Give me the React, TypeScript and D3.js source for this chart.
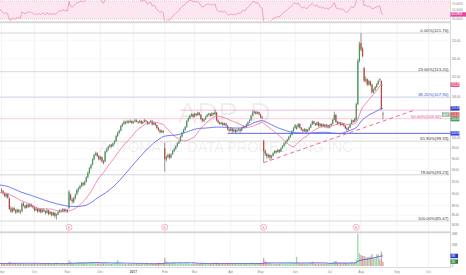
import React from "react";
import * as d3 from "d3";

// ---- data ----
const preCloses = [
  91.8, 92.1, 92.4, 92.0, 92.6, 92.9, 93.1, 92.7, 93.0, 92.5,
  92.8, 93.2, 92.9, 92.6, 92.3, 92.7, 92.4, 92.1, 92.5, 92.2,
  91.9, 92.3, 92.0, 91.7, 92.1, 91.8, 91.5, 91.9, 91.6, 91.3,
  90.8, 90.4, 90.7, 90.2, 90.5, 89.9, 90.3, 90.0, 89.7, 90.1,
  89.8, 90.2, 89.9, 90.4, 90.1, 89.8, 90.3, 90.0, 89.9, 90.6,
];

// [open, high, low, close]
const bars: [number, number, number, number][] = [
  [90.6, 90.9, 90.1, 90.4], [90.4, 90.6, 89.8, 90.0], [90.0, 90.2, 89.4, 89.6], [89.5, 90.1, 89.3, 89.9],
  [89.9, 90.0, 89.1, 89.3], [89.2, 89.3, 87.3, 87.4], [87.5, 87.9, 86.8, 87.0], [87.0, 87.7, 86.8, 87.5],
  [87.6, 87.8, 87.0, 87.2], [87.2, 87.4, 86.6, 86.9], [86.9, 87.5, 86.7, 87.3], [87.3, 87.4, 86.8, 87.0],
  [87.0, 87.3, 86.6, 86.9], [87.0, 88.5, 86.9, 88.3], [88.3, 88.6, 87.8, 88.0], [88.0, 88.1, 87.4, 87.6],
  [87.6, 88.3, 87.5, 88.1], [88.1, 88.3, 87.6, 87.8], [87.8, 88.4, 87.7, 88.2], [88.2, 88.3, 87.7, 87.9],
  [87.9, 88.1, 87.5, 87.7], [87.7, 87.8, 87.0, 87.2], [87.2, 87.7, 87.1, 87.5], [87.5, 87.6, 86.8, 87.0],
  [87.0, 87.6, 86.9, 87.4], [87.4, 87.5, 86.7, 86.9], [86.9, 87.5, 86.8, 87.3], [87.3, 87.4, 86.9, 87.1],
  [87.1, 87.2, 86.5, 86.8], [86.8, 87.4, 86.7, 87.2], [87.2, 87.3, 86.4, 86.6], [86.6, 87.1, 86.5, 86.9],
  [86.9, 87.0, 86.2, 86.4], [86.4, 87.0, 86.3, 86.8], [86.8, 86.9, 86.0, 86.3], [86.3, 86.7, 85.7, 86.5],
  [86.5, 87.1, 86.4, 86.9], [86.9, 87.4, 86.8, 87.2], [87.2, 87.3, 86.8, 87.0], [87.0, 87.6, 86.9, 87.4],
  [87.4, 87.5, 86.9, 87.1], [87.1, 87.5, 87.0, 87.3], [87.3, 87.4, 86.8, 87.0], [87.6, 90.6, 87.4, 90.3],
  [89.8, 90.0, 88.8, 89.0], [89.0, 89.3, 88.3, 88.7], [88.6, 89.4, 88.4, 89.2], [89.2, 90.0, 89.0, 89.8],
  [89.9, 90.8, 89.7, 90.6], [90.6, 91.1, 90.2, 90.9], [90.9, 91.5, 90.7, 91.3], [91.3, 92.0, 91.1, 91.8],
  [91.8, 92.0, 91.2, 91.5], [91.5, 92.2, 91.4, 92.0], [92.0, 93.0, 91.9, 92.8], [92.8, 93.8, 92.6, 93.6],
  [93.6, 94.6, 93.4, 94.4], [94.4, 95.2, 94.2, 95.0], [95.0, 96.2, 94.9, 96.0], [96.0, 97.0, 95.8, 96.8],
  [96.8, 97.4, 96.6, 97.1], [97.1, 97.3, 96.4, 96.6], [96.6, 96.8, 95.8, 96.0], [96.0, 96.6, 95.8, 96.4],
  [96.4, 96.5, 95.4, 95.6], [95.6, 95.9, 95.1, 95.3], [95.6, 97.6, 95.5, 97.4], [97.4, 98.0, 97.2, 97.8],
  [97.8, 98.5, 97.6, 98.3], [98.3, 98.8, 98.1, 98.6], [98.6, 98.8, 98.1, 98.4], [98.4, 99.1, 98.3, 98.9],
  [98.9, 99.5, 98.7, 99.3], [99.3, 100.5, 99.2, 100.3], [100.3, 101.1, 100.1, 100.9], [100.9, 101.5, 100.7, 101.3],
  [101.3, 102.4, 101.2, 102.2], [102.2, 102.8, 102.0, 102.6], [102.6, 103.3, 102.4, 103.0], [103.0, 103.2, 102.5, 102.8],
  [102.8, 103.4, 102.7, 103.1], [103.1, 103.3, 102.7, 102.9], [102.9, 103.5, 102.8, 103.2], [103.2, 103.3, 102.6, 102.8],
  [102.8, 103.2, 102.6, 103.0], [103.0, 103.6, 102.9, 103.3], [103.3, 103.5, 102.9, 103.1], [103.1, 103.2, 102.6, 102.9],
  [102.9, 103.4, 102.8, 103.2], [103.2, 103.3, 102.5, 102.7], [102.7, 103.2, 102.6, 103.0], [103.0, 103.6, 102.9, 103.3],
  [103.3, 103.4, 102.9, 103.1], [103.1, 103.2, 102.4, 102.6], [102.6, 103.1, 102.5, 102.9], [102.9, 103.4, 102.8, 103.2],
  [103.2, 103.3, 102.3, 102.5], [102.5, 103.0, 102.4, 102.8], [102.8, 102.9, 102.2, 102.4], [102.4, 102.5, 101.6, 101.8],
  [101.8, 102.0, 101.2, 101.4], [101.4, 101.6, 100.8, 101.0], [101.0, 101.5, 100.9, 101.3], [101.3, 101.4, 100.8, 101.0],
  [98.0, 99.0, 93.8, 96.0], [96.0, 96.7, 95.6, 96.4], [96.4, 97.1, 96.2, 96.8], [96.8, 97.0, 96.0, 96.3],
  [96.3, 97.1, 96.2, 96.9], [96.9, 97.7, 96.8, 97.5], [97.5, 98.1, 97.3, 97.9], [97.9, 98.6, 97.8, 98.4],
  [98.4, 99.1, 98.2, 98.9], [98.9, 99.5, 98.8, 99.3], [99.3, 100.4, 99.2, 100.2], [100.2, 101.1, 100.0, 100.9],
  [100.9, 101.7, 100.8, 101.5], [101.5, 102.2, 101.3, 102.0], [102.0, 103.4, 101.9, 103.2], [103.2, 103.9, 103.0, 103.7],
  [103.7, 104.4, 103.5, 104.2], [104.2, 104.7, 104.0, 104.5], [104.5, 104.6, 103.8, 104.0], [104.0, 104.8, 103.9, 104.6],
  [104.6, 104.7, 104.1, 104.3], [104.3, 105.0, 104.2, 104.8], [104.8, 104.9, 104.2, 104.4], [104.4, 104.5, 103.4, 103.6],
  [103.6, 103.8, 103.0, 103.2], [103.2, 103.7, 103.0, 103.5], [103.5, 104.2, 103.4, 104.0], [104.0, 104.6, 103.9, 104.4],
  [104.4, 104.8, 104.2, 104.6], [104.6, 104.7, 104.0, 104.2], [104.2, 104.9, 104.1, 104.7], [104.7, 104.8, 104.3, 104.5],
  [104.5, 105.4, 104.4, 104.9], [104.8, 104.9, 103.1, 103.3], [103.3, 103.5, 102.7, 102.9], [102.9, 103.1, 102.4, 102.6],
  [102.6, 103.0, 102.5, 102.8], [102.8, 102.9, 102.2, 102.4], [102.4, 102.9, 102.3, 102.7], [102.7, 102.8, 102.1, 102.3],
  [102.3, 102.4, 101.4, 101.6], [101.6, 101.8, 101.0, 101.3], [101.3, 101.9, 101.2, 101.7], [101.7, 101.8, 100.9, 101.2],
  [101.2, 101.7, 101.0, 101.5], [101.5, 101.6, 100.8, 101.1], [101.1, 101.6, 101.0, 101.4], [101.4, 101.8, 101.2, 101.6],
  [101.6, 101.7, 100.9, 101.3], [101.3, 102.0, 101.2, 101.8], [101.8, 102.3, 101.7, 102.1], [102.1, 102.2, 101.7, 101.9],
  [101.9, 102.7, 101.8, 102.5], [102.5, 103.1, 102.4, 102.9], [102.9, 103.5, 102.8, 103.3], [103.3, 104.4, 103.2, 104.2],
  [104.2, 105.3, 104.1, 104.8], [104.8, 105.2, 104.6, 105.0], [105.0, 105.1, 104.4, 104.6], [104.6, 105.1, 104.5, 104.9],
  [104.9, 105.0, 104.3, 104.5], [104.5, 104.6, 103.7, 103.9], [103.9, 104.2, 103.5, 103.7], [99.3, 99.6, 95.4, 97.5],
  [97.5, 97.8, 96.6, 97.0], [97.0, 97.2, 96.1, 96.5], [96.5, 97.0, 96.2, 96.8], [96.8, 96.9, 95.8, 96.3],
  [96.3, 96.8, 96.1, 96.6], [96.6, 97.3, 96.5, 97.1], [97.1, 97.7, 97.0, 97.5], [97.5, 97.6, 97.0, 97.3],
  [97.3, 97.9, 97.2, 97.7], [97.7, 97.8, 97.1, 97.4], [97.4, 98.2, 97.3, 98.0], [98.0, 98.6, 97.9, 98.4],
  [98.4, 99.1, 98.3, 98.9], [98.9, 99.4, 98.7, 99.2], [99.2, 99.8, 99.1, 99.6], [99.6, 100.3, 99.5, 100.1],
  [100.1, 100.7, 100.0, 100.5], [100.5, 101.4, 100.4, 101.2], [101.2, 102.0, 101.1, 101.8], [101.8, 102.6, 101.7, 102.4],
  [101.6, 102.4, 101.5, 102.0], [102.0, 102.8, 101.9, 102.6], [102.6, 102.7, 101.7, 101.9], [101.9, 102.0, 101.3, 101.5],
  [101.5, 101.7, 101.0, 101.2], [101.2, 101.8, 101.1, 101.6], [101.6, 101.7, 100.9, 101.1], [101.1, 101.6, 101.0, 101.4],
  [101.4, 102.1, 101.3, 101.9], [101.9, 102.7, 101.8, 102.5], [102.5, 103.3, 102.4, 103.1], [103.1, 103.2, 102.5, 102.7],
  [102.7, 102.8, 102.2, 102.4], [102.4, 103.1, 102.3, 102.9], [102.9, 103.0, 102.0, 102.2], [102.2, 102.8, 102.1, 102.6],
  [102.6, 102.7, 101.9, 102.1], [102.1, 102.7, 102.0, 102.5], [102.5, 102.6, 101.8, 102.0], [102.0, 102.6, 101.9, 102.4],
  [102.4, 102.5, 101.7, 101.9], [101.9, 102.5, 101.8, 102.3], [102.3, 102.8, 102.2, 102.6], [102.6, 103.6, 102.5, 103.4],
  [103.4, 105.0, 103.3, 104.4], [104.4, 104.5, 102.8, 103.0], [103.0, 103.2, 102.4, 102.6], [102.6, 103.1, 102.5, 102.9],
  [102.9, 103.0, 102.2, 102.4], [102.4, 102.9, 102.3, 102.7], [102.7, 102.8, 102.1, 102.3], [102.3, 102.4, 101.6, 101.8],
  [101.8, 102.0, 101.2, 101.5], [101.5, 102.1, 101.4, 101.9], [101.9, 102.8, 101.8, 102.6], [102.6, 103.5, 102.5, 103.3],
  [103.3, 103.4, 102.8, 103.0], [103.0, 103.8, 102.9, 103.6], [103.4, 106.8, 103.2, 106.5], [106.5, 116.0, 106.3, 115.5],
  [115.5, 119.8, 115.2, 119.2], [119.5, 121.76, 117.6, 118.0], [118.2, 118.6, 116.3, 116.6], [114.0, 114.3, 111.0, 111.3],
  [111.3, 112.2, 110.9, 111.6], [111.6, 111.8, 110.2, 110.5], [110.5, 111.5, 110.3, 111.2], [111.2, 111.3, 110.1, 110.4],
  [110.5, 110.7, 108.6, 108.9], [108.9, 109.7, 108.7, 109.4], [109.4, 110.2, 109.2, 110.0], [110.0, 110.8, 109.8, 110.6],
  [110.6, 111.5, 110.4, 111.2], [111.6, 111.8, 111.0, 111.5], [111.2, 111.4, 105.3, 105.6], [104.6, 105.0, 103.5, 104.43],
];

const preVolumes = [2.4, 2.2, 2.6, 2.3, 2.1, 2.5, 2.2, 2.4, 2.0, 2.3, 2.6, 2.2, 2.5, 2.1, 2.3, 2.4, 2.2, 2.0, 2.5, 2.3];
// millions
const volumes = [
  2.6, 2.4, 2.2, 2.5, 2.3, 4.0, 3.1, 2.6, 2.4, 2.8,
  2.2, 2.5, 2.3, 2.9, 2.4, 2.1, 2.3, 2.2, 2.6, 2.0,
  2.1, 2.4, 2.2, 2.0, 2.3, 2.5, 2.1, 2.2, 2.4, 2.0,
  2.6, 2.2, 2.5, 2.1, 2.7, 3.0, 2.3, 2.1, 2.2, 2.4,
  2.0, 2.3, 2.5, 5.6, 3.6, 2.8, 2.5, 2.9, 3.4, 3.1,
  3.8, 3.3, 2.9, 3.2, 3.5, 3.0, 3.3, 2.8, 3.6, 3.1,
  2.7, 2.5, 2.9, 2.4, 2.8, 2.6, 3.3, 2.7, 2.5, 2.3,
  2.2, 2.4, 2.8, 3.1, 5.5, 2.9, 2.6, 2.4, 2.2, 1.8,
  1.6, 2.0, 2.3, 2.1, 2.2, 2.0, 1.9, 2.3, 2.1, 2.4,
  2.0, 2.2, 1.9, 2.4, 2.1, 2.3, 2.6, 2.2, 2.4, 2.5,
  2.7, 2.9, 2.4, 2.8, 7.8, 4.5, 3.2, 2.8, 2.5, 3.0,
  3.5, 2.7, 2.4, 2.6, 2.9, 2.5, 2.3, 2.6, 2.8, 2.4,
  2.2, 2.0, 2.3, 2.1, 2.4, 2.2, 1.9, 2.5, 2.6, 2.2,
  2.1, 2.3, 2.0, 2.2, 2.4, 3.0, 2.6, 2.9, 2.5, 2.3,
  2.1, 2.4, 2.2, 2.0, 2.6, 2.3, 2.1, 2.5, 2.2, 2.4,
  2.0, 2.2, 2.3, 2.1, 2.4, 2.2, 2.5, 2.3, 2.6, 2.9,
  2.7, 2.4, 2.2, 2.5, 2.3, 2.6, 2.8, 7.5, 4.6, 3.5,
  3.0, 2.8, 2.6, 2.5, 2.3, 2.4, 2.2, 2.5, 2.7, 2.4,
  2.3, 2.6, 2.4, 2.5, 2.7, 2.9, 2.6, 2.8, 8.7, 2.9,
  2.5, 2.3, 2.6, 2.4, 2.2, 2.5, 2.7, 2.9, 4.2, 2.6,
  2.4, 2.3, 2.5, 2.2, 2.4, 2.1, 2.3, 2.5, 2.2, 2.6,
  2.8, 3.4, 4.3, 4.6, 3.1, 2.7, 2.9, 2.5, 2.7, 3.0,
  2.8, 2.6, 3.1, 3.3, 2.9, 3.2, 6.0, 30.5, 12.0, 10.3,
  9.4, 9.4, 8.1, 8.1, 8.7, 8.7, 11.0, 7.2, 7.2, 11.0,
  11.0, 6.3, 13.4, 4.1,
];

const monthLabels = ["Sep", "Oct", "Nov", "Dec", "2017", "Feb", "Mar", "Apr", "May", "Jun", "Jul", "Aug", "Sep", "Oct"];
const monthStartIdx = [0, 21, 42, 63, 84, 104, 123, 146, 165, 187, 209, 229, 252, 272];
const priceTicks = [120, 116, 112, 108, 100, 98, 96, 94, 92, 90, 88, 86.4, 84.8];
const gridPrices = [120, 116, 112, 108, 104, 100, 98, 96, 94, 92, 90, 88, 86.4, 84.8];
const fibNames = ["0.00%", "23.60%", "38.20%", "50.00%", "61.80%", "78.60%", "100.00%"];
const fibPrices = [121.76, 113.2, 107.9, 103.62, 99.33, 93.23, 85.47];
const earningsIdx = [43, 104, 167, 226];
const supportLevel = { price: 100.8, fromIdx: 144 };
const resistanceLevel = { price: 105.3, fromIdx: 114 };
const trendFrom = { idx: 167, price: 95.4 };
const trendTo = { idx: 263, price: 105.3 };
const extraTag = 104.61;
const rsiTicks = [70, 50, 30];
const volTicks = [30, 20, 0];

const FONT = "Liberation Sans, Arial, sans-serif";
const PR = 450.5;

function sma(arr: number[], n: number): (number | null)[] {
  return arr.map((_, k) => (k < n - 1 ? null : (d3.sum(arr.slice(k - n + 1, k + 1)) as number) / n));
}

function wilderRsi(c: number[], n: number): (number | null)[] {
  const out: (number | null)[] = c.map(() => null);
  let ag = 0, al = 0;
  for (let k = 1; k <= n; k++) {
    const ch = c[k] - c[k - 1];
    ag += Math.max(ch, 0);
    al += Math.max(-ch, 0);
  }
  ag /= n; al /= n;
  out[n] = 100 - 100 / (1 + ag / al);
  for (let k = n + 1; k < c.length; k++) {
    const ch = c[k] - c[k - 1];
    ag = (ag * (n - 1) + Math.max(ch, 0)) / n;
    al = (al * (n - 1) + Math.max(-ch, 0)) / n;
    out[k] = al === 0 ? 100 : 100 - 100 / (1 + ag / al);
  }
  return out;
}

function Tag({ y, text, fill, w = 9, fs = 2.8 }: { y: number; text: string; fill: string; w?: number; fs?: number }) {
  return (
    <g>
      <rect x={PR} y={y - 2.2} width={w} height={4.4} fill={fill} />
      <text x={PR + 0.8} y={y + 1} fontSize={fs} fill="#fff" fontFamily={FONT}>{text}</text>
    </g>
  );
}

export default function App() {
  const x = d3.scaleLinear().domain([0, 272]).range([1.5, 428.5]);
  const y = d3.scaleLog().domain([85.47, 121.76]).range([221, 33]);
  const yR = d3.scaleLinear().domain([30, 70]).range([19, 1]);
  const yV = d3.scaleLinear().domain([0, 30]).range([266, 234]);

  const nPre = preCloses.length;
  const allCloses = [...preCloses, ...bars.map((b) => b[3])];
  const s20 = sma(allCloses, 20);
  const s50 = sma(allCloses, 50);
  const rsi = wilderRsi(allCloses, 14);
  const allVols = [...preVolumes, ...volumes];
  const vma = sma(allVols, 20);
  const nPreV = preVolumes.length;

  const mkLine = (vals: (number | null)[], off: number, ys: (v: number) => number) =>
    d3.line<number | null>()
      .defined((d) => d !== null)
      .x((_, k) => x(k - off))
      .y((d) => ys(d as number))(vals) || "";

  const s20Path = mkLine(s20, nPre, y);
  const s50Path = mkLine(s50, nPre, y);
  const rsiPath = mkLine(rsi, nPre, yR);
  const vmaPath = mkLine(vma, nPreV, yV);

  const last = bars.length - 1;
  const lastClose = bars[last][3];
  const s20Last = s20[s20.length - 1] as number;
  const s50Last = s50[s50.length - 1] as number;
  const rsiLast = rsi[rsi.length - 1] as number;
  const vmaLast = vma[vma.length - 1] as number;
  const volLast = volumes[last];

  const blueY = y(s50Last);
  const redY = Math.max(y(lastClose), blueY + 4.6);
  const greenY = redY + 4.6;

  const up = (b: number[]) => b[3] >= b[0];

  return (
    <svg width={466} height={275} style={{ position: "absolute", left: 0, top: 0, background: "#fff" }}>
      <defs>
        <clipPath id="cRsi"><rect x={0} y={0} width={PR} height={21.3} /></clipPath>
        <clipPath id="cMain"><rect x={0} y={23.5} width={PR} height={207.8} /></clipPath>
        <clipPath id="cVol"><rect x={0} y={233.4} width={PR} height={33} /></clipPath>
      </defs>
      <rect x={0} y={0} width={466} height={275} fill="#fff" />

      {/* vertical grid */}
      {monthStartIdx.map((m, k) => (
        <line key={"vg" + k} x1={x(m)} x2={x(m)} y1={0} y2={267} stroke="#f0f0f0" strokeWidth={0.8} />
      ))}

      {/* RSI pane */}
      <g clipPath="url(#cRsi)">
        <rect x={0} y={yR(70)} width={PR} height={yR(30) - yR(70)} fill="#fce6ef" />
        <line x1={0} x2={PR} y1={yR(70)} y2={yR(70)} stroke="#d9a7bd" strokeWidth={0.6} strokeDasharray="1,1" />
        <line x1={0} x2={PR} y1={yR(30)} y2={yR(30)} stroke="#d9a7bd" strokeWidth={0.6} strokeDasharray="1,1" />
        <path d={rsiPath} fill="none" stroke="#ef8fc1" strokeWidth={0.8} />
      </g>
      <rect x={0} y={21.4} width={466} height={1.8} fill="#d4d4d4" />

      {/* main pane */}
      <g clipPath="url(#cMain)">
        {gridPrices.map((p) => (
          <line key={"hg" + p} x1={0} x2={PR} y1={y(p)} y2={y(p)} stroke="#f5f5f5" strokeWidth={0.8} />
        ))}
        <text x={178} y={123} fontSize={29} fill="#000" fillOpacity={0.07} fontFamily={FONT}>ADP, D</text>
        <text x={226} y={152} fontSize={14.5} fill="#000" fillOpacity={0.07} fontFamily={FONT} textAnchor="middle">
          AUTOMATIC DATA PROCESSING INC
        </text>
        {fibPrices.map((p, k) => (
          <line key={"fl" + k} x1={0} x2={PR} y1={y(p)} y2={y(p)}
            stroke={k === 2 ? "#c9cdf2" : k === 3 ? "#f6c3d6" : "#d3d3d3"} strokeWidth={0.9} />
        ))}
        <line x1={x(resistanceLevel.fromIdx)} x2={PR} y1={y(resistanceLevel.price)} y2={y(resistanceLevel.price)}
          stroke="#ec5d92" strokeWidth={0.8} strokeDasharray="1,1" />
        <line x1={x(supportLevel.fromIdx)} x2={PR} y1={y(supportLevel.price)} y2={y(supportLevel.price)}
          stroke="#4a57e8" strokeWidth={0.9} />
        <line x1={x(trendFrom.idx)} x2={x(trendTo.idx)} y1={y(trendFrom.price)} y2={y(trendTo.price)}
          stroke="#ec5d92" strokeWidth={0.9} strokeDasharray="4,3" />
        {bars.map((b, i) => {
          const cx = x(i);
          const top = y(Math.max(b[0], b[3]));
          const bot = y(Math.min(b[0], b[3]));
          return (
            <g key={"c" + i}>
              <line x1={cx} x2={cx} y1={y(b[1])} y2={y(b[2])} stroke="#555" strokeWidth={0.6} />
              <rect x={cx - 0.6} y={top} width={1.2} height={Math.max(0.7, bot - top)}
                fill={up(b) ? "#3f9d58" : "#c2433a"} />
            </g>
          );
        })}
        <path d={s20Path} fill="none" stroke="#f17ea4" strokeWidth={0.9} />
        <path d={s50Path} fill="none" stroke="#5f66f4" strokeWidth={0.9} />
        {fibPrices.map((p, k) => (
          <text key={"ft" + k} x={k === 3 ? 441.4 : 448.5} y={y(p) - 1.2} fontSize={4.3} textAnchor="end" fontFamily={FONT}
            fill={k === 2 ? "#3f51c8" : k === 3 ? "#e44d8a" : "#3a3a3a"}>
            {`${fibNames[k]}(${p.toFixed(2)})`}
          </text>
        ))}
        {earningsIdx.map((e) => (
          <g key={"e" + e}>
            <circle cx={x(e)} cy={227.3} r={3} fill="#fff" stroke="#f28fb3" strokeWidth={0.7} />
            <text x={x(e)} y={228.6} fontSize={3.6} textAnchor="middle" fill="#ec6f9c" fontFamily={FONT}>E</text>
          </g>
        ))}
      </g>
      <rect x={0} y={231.4} width={466} height={1.8} fill="#d4d4d4" />

      {/* volume pane */}
      <g clipPath="url(#cVol)">
        {volumes.map((v, i) => (
          <rect key={"v" + i} x={x(i) - 0.65} y={yV(v)} width={1.3} height={yV(0) - yV(v)}
            fill={up(bars[i]) ? "#9fd8a6" : "#d9a0a0"} />
        ))}
        <path d={vmaPath} fill="none" stroke="#4052ee" strokeWidth={0.8} />
      </g>
      <line x1={0} x2={466} y1={267.6} y2={267.6} stroke="#cfcfcf" strokeWidth={0.8} />

      {/* right axis */}
      <rect x={PR} y={0} width={466 - PR} height={275} fill="#fff" />
      <line x1={PR} x2={PR} y1={0} y2={268} stroke="#cfcfcf" strokeWidth={0.8} />
      {rsiTicks.map((t) => (
        <text key={"rt" + t} x={PR + 1.5} y={Math.min(20.5, Math.max(3.5, yR(t))) + 1} fontSize={3} fill="#888" fontFamily={FONT}>
          {t.toFixed(4)}
        </text>
      ))}
      <Tag y={yR(rsiLast)} text={rsiLast.toFixed(4)} fill="#e3489e" w={466 - PR} fs={3} />
      {priceTicks.map((p) => (
        <text key={"pt" + p} x={PR + 1.2} y={y(p) + 1} fontSize={2.8} fill="#777" fontFamily={FONT}>
          {p.toFixed(2)}
        </text>
      ))}
      <Tag y={y(s20Last)} text={s20Last.toFixed(2)} fill="#e5587f" />
      <Tag y={blueY} text={s50Last.toFixed(2)} fill="#2436d0" />
      <Tag y={redY} text={lastClose.toFixed(2)} fill="#c9473f" />
      <Tag y={greenY} text={extraTag.toFixed(2)} fill="#4f9e60" />
      <Tag y={y(supportLevel.price)} text={supportLevel.price.toFixed(2)} fill="#3342e0" />
      <rect x={442} y={redY - 2.2} width={7.6} height={4.4} fill="#86b592" />
      <text x={445.8} y={redY + 1} fontSize={2.8} fill="#fff" textAnchor="middle" fontFamily={FONT}>ADP</text>
      {volTicks.map((t) => (
        <text key={"vt" + t} x={PR + 1.2} y={yV(t) + 1} fontSize={2.8} fill="#777" fontFamily={FONT}>
          {t === 0 ? "0" : `${t}M`}
        </text>
      ))}
      <Tag y={yV(vmaLast)} text={`${Math.round(vmaLast)}M`} fill="#2436d0" w={7.5} />
      <Tag y={yV(volLast)} text={`${Math.round(volLast)}M`} fill="#2e8b3e" w={7.5} />

      {/* time axis */}
      {monthLabels.map((m, k) => (
        <text key={"m" + k} x={x(monthStartIdx[k])} y={272.6} fontSize={3.2} textAnchor="middle"
          fill={m === "2017" ? "#555" : "#888"} fontWeight={m === "2017" ? "bold" : "normal"} fontFamily={FONT}>
          {m}
        </text>
      ))}
    </svg>
  );
}
